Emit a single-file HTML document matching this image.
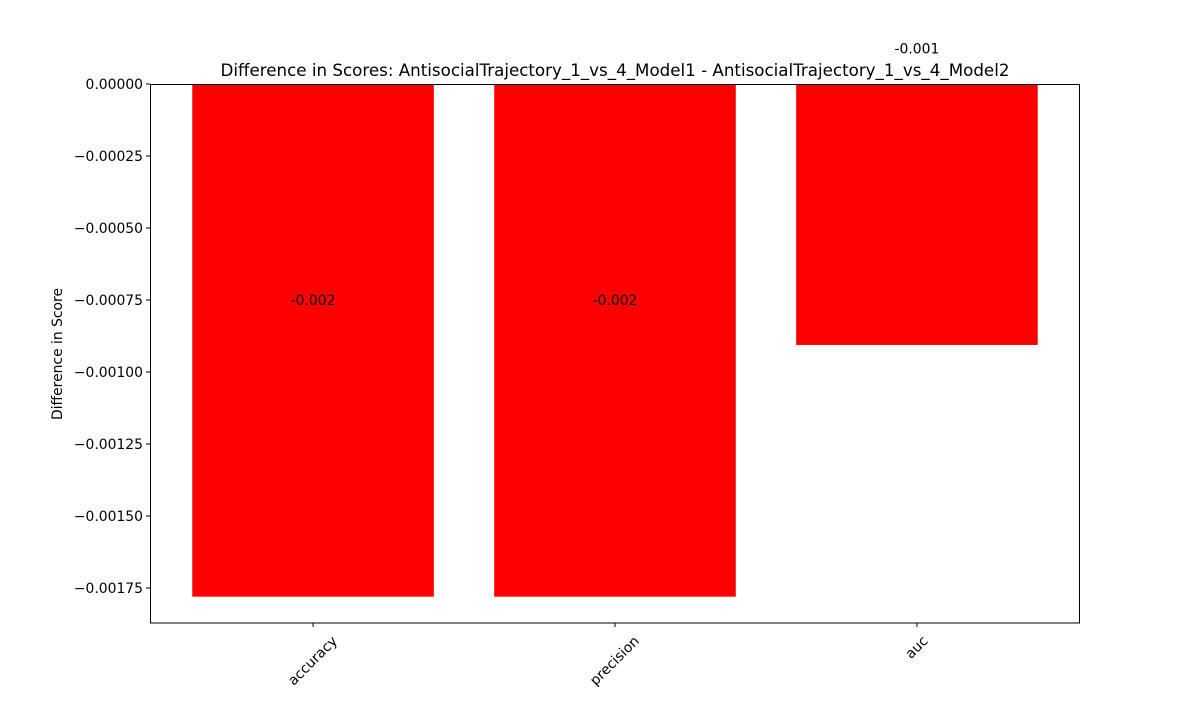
<!DOCTYPE html>
<html><head><meta charset="utf-8"><style>
body{margin:0;background:#fff;font-family:"Liberation Sans","DejaVu Sans",sans-serif}
</style></head><body>
<svg id="chart" width="1200" height="700" xmlns="http://www.w3.org/2000/svg" font-family="DejaVu Sans, Liberation Sans, sans-serif">
<rect width="1200" height="700" fill="#fff"/>
<g id="bars"></g>
<g id="yticks"></g>
<g id="xticks"></g>
<rect x="150.5" y="84.5" width="929" height="538.5" fill="none" stroke="#000" stroke-width="1"/>
<text x="615" y="76" text-anchor="middle" font-size="16.7">Difference in Scores: AntisocialTrajectory_1_vs_4_Model1 - AntisocialTrajectory_1_vs_4_Model2</text>
<text transform="translate(62,354) rotate(-90)" text-anchor="middle" font-size="13.9">Difference in Score</text>
</svg>
<script>
const categories = ["accuracy", "precision", "auc"];
const values = [-0.00178, -0.00178, -0.000906];
const printed = ["-0.002", "-0.002", "-0.001"];
const yTicks = [0, -0.00025, -0.0005, -0.00075, -0.001, -0.00125, -0.0015, -0.00175];
const yTickLabels = ["0.00000","\u22120.00025","\u22120.00050","\u22120.00075","\u22120.00100","\u22120.00125","\u22120.00150","\u22120.00175"];

const NS = "http://www.w3.org/2000/svg";
const L = 150, R = 1080, T = 84, B = 623;
const yMin = -0.0018715, yMax = 0;
const y = v => T + (yMax - v) / (yMax - yMin) * (B - T);
const xMin = -0.54, xMax = categories.length - 1 + 0.54;
const x = i => L + (i - xMin) / (xMax - xMin) * (R - L);
const bw = 0.8 * (R - L) / (xMax - xMin);
function mk(tag, attrs, parent) { const e = document.createElementNS(NS, tag); for (const k in attrs) e.setAttribute(k, attrs[k]); parent.appendChild(e); return e; }
const gb = document.getElementById("bars"), gy = document.getElementById("yticks"), gx = document.getElementById("xticks");
values.forEach((v, i) => {
  const r = mk("rect", { x: x(i) - bw / 2, y: y(0), width: bw, height: y(v) - y(0), fill: "#ff0000" }, gb);
  
  
  const t = mk("text", { x: x(i), y: y(v + 0.00103) + 5, "text-anchor": "middle", "font-size": "13.9" }, gb);
  t.textContent = printed[i];
  
  
  const tk = mk("line", { x1: x(i), x2: x(i), y1: B, y2: B + 4, stroke: "#000" }, gx);
  
  
  const lb = mk("text", { "text-anchor": "middle", "font-size": "13.9", "dominant-baseline": "central" }, gx);
  lb.textContent = categories[i];
  
  
  const w = lb.getComputedTextLength();
  const h = (w + 14) * 0.7071;
  lb.setAttribute("transform", `translate(${x(i)},${B + 11 + h / 2}) rotate(-45)`);
});
yTicks.forEach((v, i) => {
  const tk = mk("line", { x1: L - 4, x2: L, y1: y(v), y2: y(v), stroke: "#000" }, gy);
  
  
  const lb = mk("text", { x: L - 7, y: y(v) + 5, "text-anchor": "end", "font-size": "13.9" }, gy);
  lb.textContent = yTickLabels[i];
  
  
});
</script>
</body></html>
